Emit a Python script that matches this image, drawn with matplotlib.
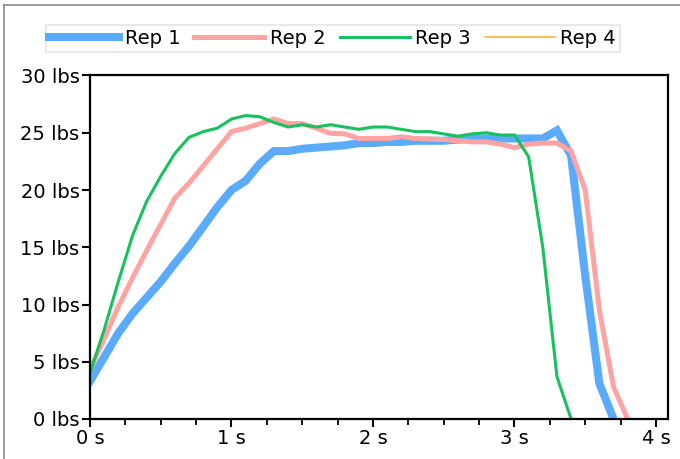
import numpy as np
import matplotlib
matplotlib.use("Agg")
import matplotlib.pyplot as plt
from matplotlib.lines import Line2D
from matplotlib.ticker import FuncFormatter, MultipleLocator

# time axis, 0.1 s sampling
t_rep1 = np.round(np.arange(0, 3.75, 0.1), 1)
t_rep2 = np.round(np.arange(0, 3.85, 0.1), 1)
t_rep3 = np.round(np.arange(0, 3.45, 0.1), 1)

rep1 = [3.3, 5.4, 7.5, 9.2, 10.6, 12.0, 13.6, 15.1, 16.8, 18.5,
        20.0, 20.8, 22.3, 23.4, 23.4, 23.6, 23.7, 23.8, 23.9, 24.1,
        24.1, 24.2, 24.2, 24.3, 24.3, 24.3, 24.4, 24.5, 24.5, 24.5,
        24.5, 24.5, 24.5, 25.2, 23.0, 12.5, 3.1, 0.0]
rep2 = [4.3, 7.0, 9.8, 12.3, 14.7, 17.0, 19.3, 20.6, 22.1, 23.6,
        25.1, 25.4, 25.8, 26.2, 25.8, 25.8, 25.4, 24.95, 24.9, 24.5,
        24.5, 24.5, 24.65, 24.5, 24.45, 24.4, 24.3, 24.2, 24.2, 24.0,
        23.7, 24.0, 24.1, 24.1, 23.4, 20.0, 9.5, 2.8, 0.0]
rep3 = [4.0, 7.8, 12.0, 16.0, 19.0, 21.2, 23.2, 24.6, 25.1, 25.4,
        26.2, 26.5, 26.4, 25.9, 25.5, 25.7, 25.5, 25.7, 25.5, 25.3,
        25.5, 25.5, 25.3, 25.1, 25.1, 24.9, 24.7, 24.9, 25.0, 24.8,
        24.8, 22.9, 15.0, 3.7, 0.0]
rep4 = []  # legend only

labels = ["Rep 1", "Rep 2", "Rep 3", "Rep 4"]
colors = ["#5aabfc", "#ffa3a3", "#17c25e", "#ffad1f"]
widths = [5.8, 3.6, 2.2, 1.1]

fig = plt.figure(figsize=(6.8, 4.59), dpi=100)
ax = fig.add_axes([90 / 680, 40 / 459, 578 / 680, 343.5 / 459])

series = [(t_rep1, rep1), (t_rep2, rep2), (t_rep3, rep3), ([], rep4)]
for (t, v), lab, c, w in zip(series, labels, colors, widths):
    ax.plot(t, v, color=c, lw=w, label=lab, solid_joinstyle="miter")

ax.set_xlim(0, 4.085)
ax.set_ylim(0, 30)
ax.xaxis.set_major_locator(MultipleLocator(1))
ax.xaxis.set_minor_locator(MultipleLocator(0.25))
ax.yaxis.set_major_locator(MultipleLocator(5))
ax.xaxis.set_major_formatter(FuncFormatter(lambda x, p: f"{x:.0f} s"))
ax.yaxis.set_major_formatter(FuncFormatter(lambda y, p: f"{y:.0f} lbs"))
ax.tick_params(axis="both", which="major", direction="out", length=6, width=1.5,
               labelsize=14, pad=1.5, colors="black")
ax.tick_params(axis="x", which="minor", direction="out", length=4, width=1.3)
for s in ax.spines.values():
    s.set_linewidth(1.6)
    s.set_color("black")

leg = fig.legend(loc="upper left", bbox_to_anchor=(45.5 / 680, 1 - 25 / 459),
                 ncol=4, fontsize=14, frameon=True, fancybox=False,
                 handlelength=3.6, handletextpad=0.3, columnspacing=0.7,
                 borderpad=0.2, borderaxespad=0)
leg.get_frame().set_edgecolor("#e4e4e4")
leg.get_frame().set_linewidth(1.5)

# outer grey frame (top and left edge)
fig.add_artist(Line2D([4 / 680, 1], [1 - 5 / 459, 1 - 5 / 459], color="#8a8a8a", lw=1.2))
fig.add_artist(Line2D([4 / 680, 4 / 680], [0, 1 - 5 / 459], color="#8a8a8a", lw=1.2))

fig.savefig("out.png", dpi=100)
